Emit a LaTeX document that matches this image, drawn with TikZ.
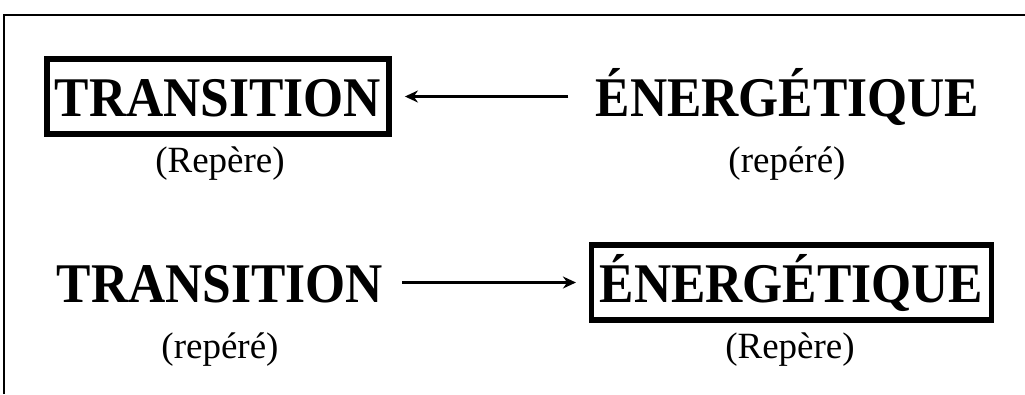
\documentclass[tikz,border=0pt]{standalone}
\usepackage{fontspec}
\setmainfont{Liberation Serif}
\newfontfamily\grosmot[FakeStretch=0.92]{Liberation Serif}
\usetikzlibrary{calc,arrows.meta}
\tikzset {>={Stealth[length=13pt,width=12pt]}}

\begin{document}
\begin{tikzpicture}[x=1pt,y=-1pt,
  mot/.style={font=\grosmot\fontsize{56}{56}\selectfont\bfseries,inner xsep=8pt,inner ysep=0pt,
    text height=57pt,text depth=18pt,anchor=base},
  cadre/.style={mot,draw,line width=5.5pt},
  sous/.style={font=\fontsize{37}{37}\selectfont,anchor=base}]
\useasboundingbox (0,0) rectangle (1025,394);
\draw[line width=2pt] (4,394) -- (4,15) -- (1025,15);

\node[cadre] (t1) at (218,116) {TRANSITION};
\node[mot] (e1) at (787.5,116) {ÉNERGÉTIQUE};
\node[mot] (t2) at (220,302) {TRANSITION};
\node[cadre] (e2) at (791.5,302) {ÉNERGÉTIQUE};

\foreach \x/\y/\name/\txt in {220/172/r1/(Repère),787/172/r2/(repéré),
  220/358/r3/(repéré),790/358/r4/(Repère)}
  \node[sous] (\name) at (\x,\y) {\txt};

\draw[->,line width=2.5pt,shorten <=19pt,shorten >=13pt] (e1.west) -- (t1.east);
\draw[->,line width=2.5pt,shorten <=11pt,shorten >=13pt] (t2.east) -- (e2.west);
\end{tikzpicture}
\end{document}
